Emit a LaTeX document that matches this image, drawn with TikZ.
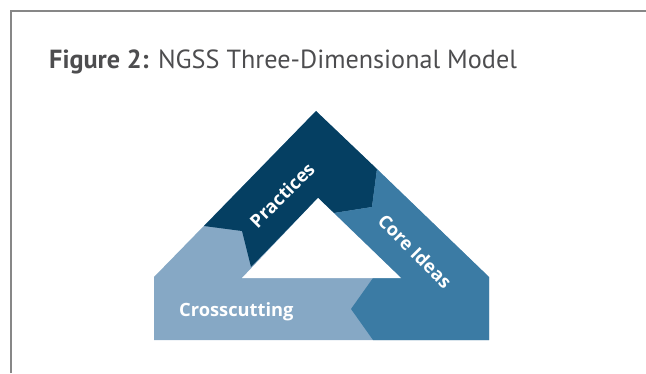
\documentclass[tikz,border=0pt]{standalone}
\usepackage{fontspec}
\setmainfont{PT Sans}
\newfontfamily\bandfont{Open Sans}
\definecolor{practcol}{RGB}{5,63,98}
\definecolor{corecol}{RGB}{59,123,164}
\definecolor{crosscol}{RGB}{134,168,197}
\definecolor{titlegray}{RGB}{77,77,79}
\definecolor{framegray}{RGB}{135,135,135}

\begin{document}
\begin{tikzpicture}[x=1pt, y=1pt,
    bandlabel/.style={text=white, inner sep=0pt, font=\bandfont\bfseries\fontsize{18.3}{20}\selectfont}]
		\useasboundingbox (0, 0) rectangle (646, 373);
		\draw[framegray, line width=1.3pt] (11, 0) -- (11, 362) -- (646, 362);
		\node[anchor=base west, inner sep=0pt, text=titlegray, font=\fontsize{26.2}{30}\selectfont] (title) at (49, 304) {\textbf{Figure 2:} NGSS Three-Dimensional Model};
		
		% outer shape
		\coordinate (A) at (316, 262);
		\coordinate (L) at (154, 96);
		\coordinate (BL) at (154, 33);
		\coordinate (BR) at (489, 33);
		\coordinate (R) at (489, 96);
		% inner triangle
		\coordinate (T) at (318, 175);
		\coordinate (IL) at (242, 95);
		\coordinate (IR) at (401, 95);
		% Practices / Core Ideas
		\coordinate (P1) at (377, 204);
		\coordinate (P2) at (372, 166);
		\coordinate (P3) at (334, 160);
		% Practices / Crosscutting
		\coordinate (Q1) at (204, 147);
		\coordinate (Q2) at (242, 142);
		\coordinate (Q3) at (251, 106);
		% Core Ideas / Crosscutting
		\coordinate (C1) at (373, 33);
		\coordinate (C2) at (351, 64);
		\coordinate (C3) at (373, 95);
		
		\fill[crosscol] (A) -- (L) -- (BL) -- (BR) -- (R) -- cycle;
		\fill[practcol] (A) -- (P1) -- (P2) -- (P3) -- (T) -- (Q3) -- (Q2) -- (Q1) -- cycle;
		\fill[corecol] (P1) -- (R) -- (BR) -- (C1) -- (C2) -- (C3) -- (IR) -- (P3) -- (P2) -- cycle;
		\fill[white] (T) -- (IL) -- (IR) -- cycle;
		
		\node[bandlabel, rotate=45] (practices) at (282, 178) {Practices};
		\node[bandlabel, rotate=-45] (core) at (415, 122) {Core Ideas};
		\node[bandlabel, anchor=base west] (cross) at (179, 57) {Crosscutting};
\end{tikzpicture}
\end{document}
